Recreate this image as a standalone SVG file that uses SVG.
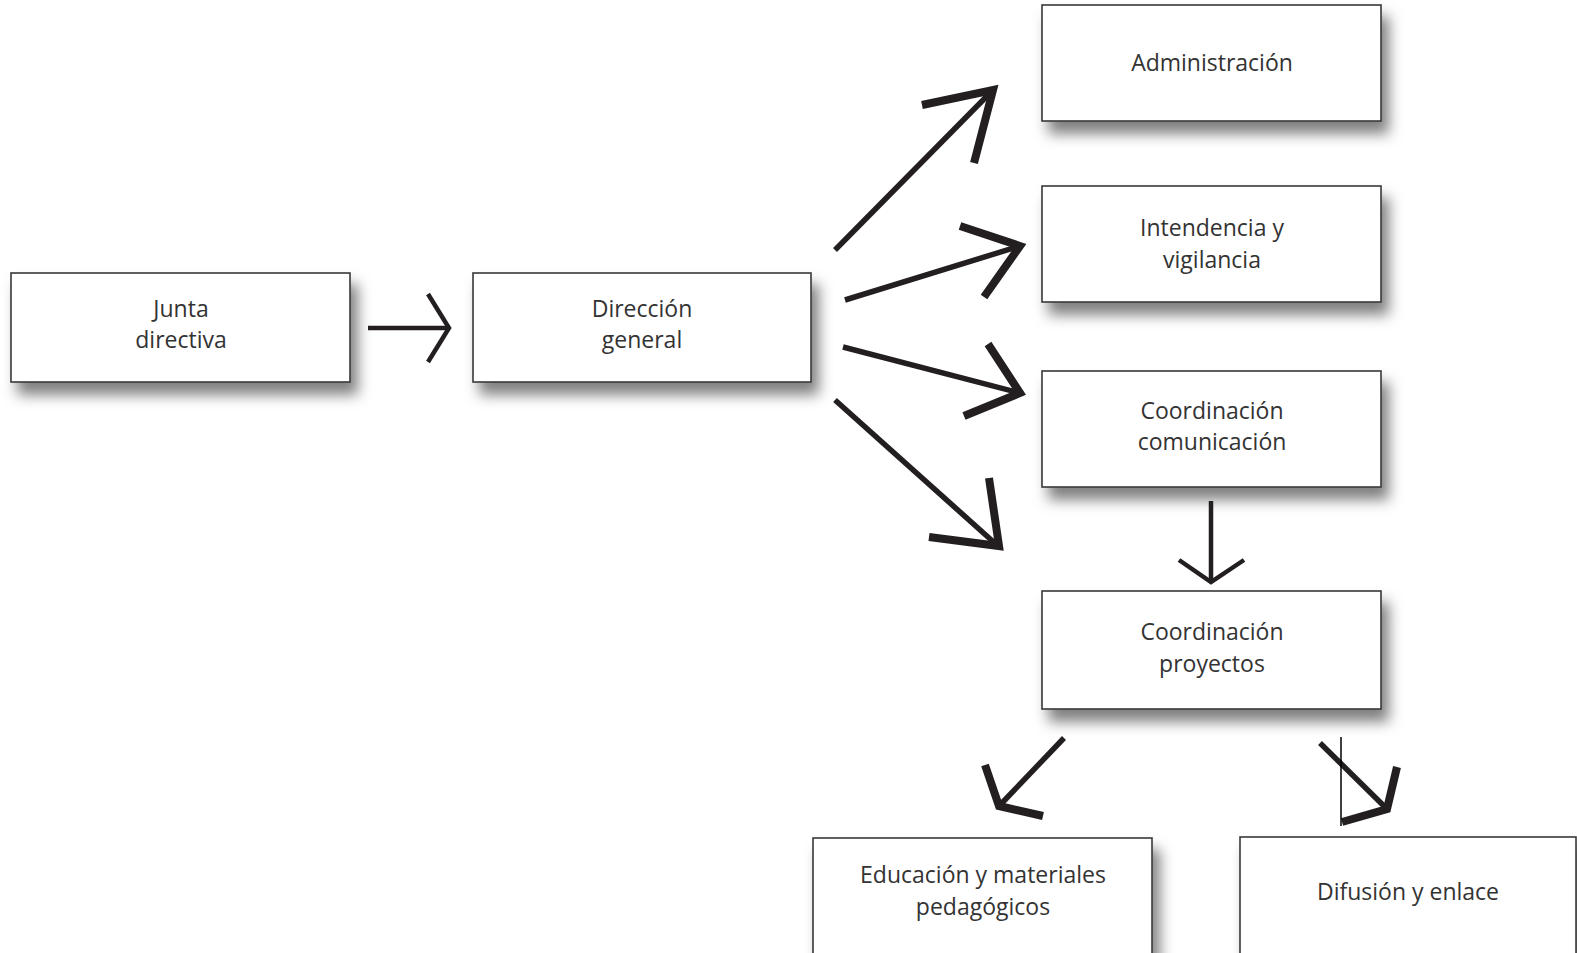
<svg xmlns="http://www.w3.org/2000/svg" width="1577" height="953" viewBox="0 0 1577 953">
<defs>
<filter id="sh" x="-10%" y="-20%" width="125%" height="170%">
<feDropShadow dx="7" dy="12" stdDeviation="7" flood-color="#000" flood-opacity="0.5"/>
</filter>
<style>
.box{fill:#fff;stroke:#3a3a3a;stroke-width:1.6;filter:url(#sh)}
.t{font-family:"Open Sans","Liberation Sans",sans-serif;font-size:23px;fill:#333;text-anchor:middle}
.ln{fill:none;stroke:#231f20;stroke-width:5.5;stroke-linecap:butt}
.hd{fill:none;stroke:#231f20;stroke-width:8;stroke-linejoin:miter;stroke-miterlimit:10}
.ln2{fill:none;stroke:#231f20;stroke-width:4.5}
.hd2{fill:none;stroke:#231f20;stroke-width:4.5;stroke-linejoin:miter;stroke-miterlimit:10}
</style>
</defs>
<rect width="1577" height="953" fill="#fff"/>
<g id="junta"><rect class="box" x="11" y="273" width="339" height="109"/><text class="t" x="181" y="317">Junta</text><text class="t" x="181" y="348">directiva</text></g>
<g id="direccion"><rect class="box" x="473" y="273" width="338" height="109"/><text class="t" x="642" y="317">Dirección</text><text class="t" x="642" y="348">general</text></g>
<g id="administracion"><rect class="box" x="1042" y="5" width="339" height="116"/><text class="t" x="1212" y="71">Administración</text></g>
<g id="intendencia"><rect class="box" x="1042" y="186" width="339" height="116"/><text class="t" x="1212" y="236">Intendencia y</text><text class="t" x="1212" y="268">vigilancia</text></g>
<g id="comunicacion"><rect class="box" x="1042" y="371" width="339" height="116"/><text class="t" x="1212" y="419">Coordinación</text><text class="t" x="1212" y="450">comunicación</text></g>
<g id="proyectos"><rect class="box" x="1042" y="591" width="339" height="118"/><text class="t" x="1212" y="640">Coordinación</text><text class="t" x="1212" y="672">proyectos</text></g>
<g id="educacion"><rect class="box" x="813" y="838" width="339" height="125"/><text class="t" x="983" y="883">Educación y materiales</text><text class="t" x="983" y="915">pedagógicos</text></g>
<g id="difusion"><rect class="box" x="1240" y="837" width="336" height="126"/><text class="t" x="1408" y="900">Difusión y enlace</text></g>
<g id="connectors">
<line class="ln2" x1="368" y1="328" x2="447" y2="328"/>
<path class="hd2" d="M428,294 L449,328 L428,362"/>
<line class="ln" x1="835" y1="250" x2="992" y2="91"/>
<path class="hd" d="M922,105 L993,90 L974,163"/>
<line class="ln" x1="845" y1="300" x2="1020" y2="246"/>
<path class="hd" d="M960,226 L1020,246 L984,297"/>
<line class="ln" x1="843" y1="347" x2="1020" y2="393"/>
<path class="hd" d="M988,344 L1020,393 L964,416"/>
<line class="ln" x1="835" y1="400" x2="998" y2="546"/>
<path class="hd" d="M989,478 L999,546 L929,537"/>
<line class="ln2" x1="1211" y1="501" x2="1211" y2="581"/>
<path class="hd2" d="M1179,560 L1211,582 L1244,560"/>
<line class="ln" x1="1064" y1="738" x2="1000" y2="805"/>
<path class="hd" d="M985,765 L999,806 L1043,816"/>
<line class="ln" x1="1320" y1="743" x2="1386" y2="808"/>
<path class="hd" d="M1397,767 L1387,809 L1342,822"/>
<line x1="1341" y1="737" x2="1341" y2="826" stroke="#000" stroke-width="1.5"/>
</g>
</svg>
